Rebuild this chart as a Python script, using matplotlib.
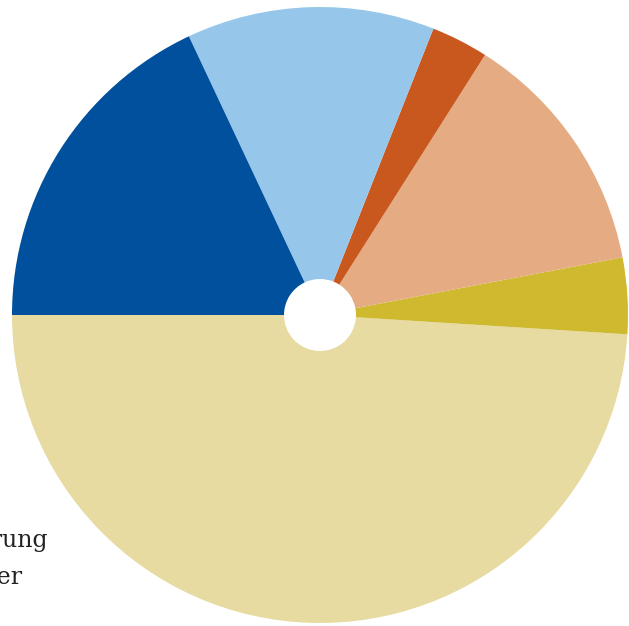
import matplotlib
matplotlib.use('Agg')
import matplotlib.pyplot as plt

# shares in percent, counter-clockwise from the left (9 o'clock)
categories = ['Sonstige', 'Sachmittel', 'Personal', 'Investitionen', 'Förderung', 'Anderer']
shares = [49, 4, 13, 3, 13, 18]
colors = ['#e7dba2', '#cfb92f', '#e5ac84', '#c9581e', '#96c7eb', '#00509d']

fig = plt.figure(figsize=(6.29, 6.26), dpi=100)
ax = fig.add_axes([12 / 629, 3 / 626, 616 / 629, 616 / 626])

ax.pie(shares, colors=colors, startangle=180, counterclock=True,
       radius=1, wedgeprops=dict(width=1 - 36 / 308, linewidth=0))
ax.set_xlim(-1, 1)
ax.set_ylim(-1, 1)
ax.set_aspect('auto')
ax.axis('off')

# legend sits left of the canvas, only the ends of the last two labels show
fig.text(48 / 629, 1 - 541 / 626, categories[4], ha='right', va='center',
         fontsize=17, family='DejaVu Serif', color='#222222')
fig.text(22 / 629, 1 - 577 / 626, categories[5], ha='right', va='center',
         fontsize=17, family='DejaVu Serif', color='#222222')

fig.savefig('out.png', dpi=100)
